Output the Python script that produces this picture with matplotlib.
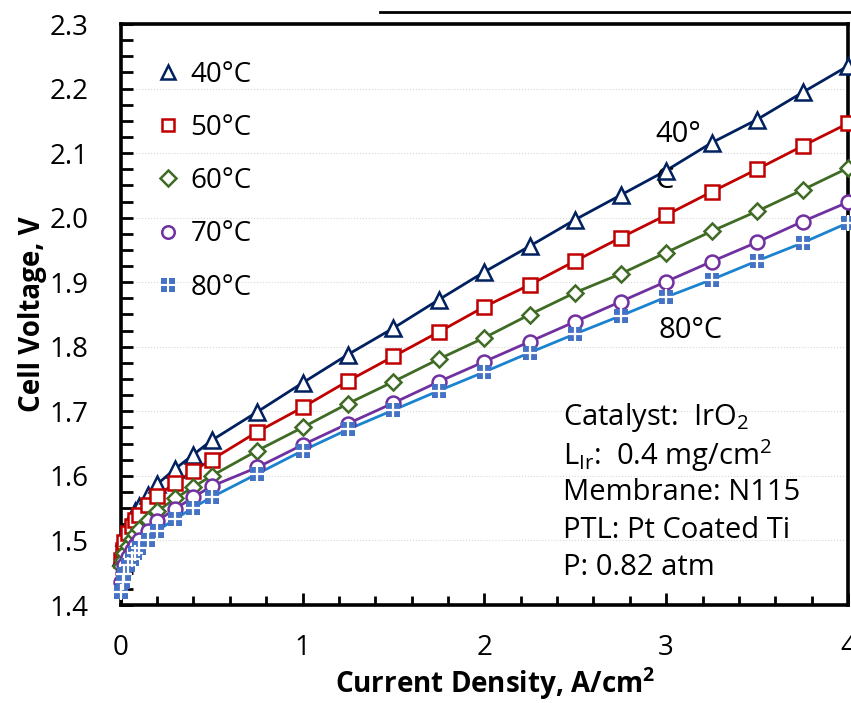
import numpy as np
import matplotlib.pyplot as plt
from matplotlib.lines import Line2D
from matplotlib.ticker import MultipleLocator

# current density, A/cm2
current = [0, 0.01, 0.02, 0.04, 0.06, 0.08, 0.1, 0.15, 0.2, 0.3, 0.4, 0.5,
           0.75, 1.0, 1.25, 1.5, 1.75, 2.0, 2.25, 2.5, 2.75, 3.0, 3.25, 3.5, 3.75, 4.0]

# cell voltage, V
v40 = [1.475, 1.492, 1.505, 1.522, 1.535, 1.545, 1.553, 1.570, 1.587, 1.611, 1.633, 1.655,
       1.699, 1.744, 1.788, 1.829, 1.873, 1.916, 1.956, 1.997, 2.035, 2.073, 2.116, 2.152, 2.194, 2.235]
v50 = [1.470, 1.485, 1.497, 1.512, 1.523, 1.532, 1.540, 1.555, 1.569, 1.589, 1.608, 1.625,
       1.668, 1.706, 1.747, 1.785, 1.823, 1.862, 1.896, 1.933, 1.969, 2.004, 2.040, 2.075, 2.111, 2.146]
v60 = [1.460, 1.470, 1.480, 1.492, 1.502, 1.510, 1.517, 1.531, 1.545, 1.565, 1.583, 1.600,
       1.639, 1.675, 1.712, 1.746, 1.781, 1.814, 1.850, 1.884, 1.913, 1.946, 1.979, 2.010, 2.043, 2.077]
v70 = [1.435, 1.450, 1.462, 1.475, 1.485, 1.493, 1.500, 1.515, 1.530, 1.549, 1.567, 1.584,
       1.613, 1.648, 1.681, 1.713, 1.746, 1.777, 1.808, 1.839, 1.870, 1.901, 1.932, 1.962, 1.994, 2.024]
v80 = [1.420, 1.435, 1.448, 1.462, 1.472, 1.480, 1.488, 1.500, 1.515, 1.533, 1.551, 1.567,
       1.603, 1.639, 1.672, 1.702, 1.732, 1.761, 1.791, 1.820, 1.848, 1.877, 1.904, 1.933, 1.961, 1.992]

labels = ['40°C', '50°C', '60°C', '70°C', '80°C']
conditions = ['Catalyst:  IrO$_2$', 'L$_{\\mathregular{Ir}}$:  0.4 mg/cm$^2$', 'Membrane: N115',
              'PTL: Pt Coated Ti', 'P: 0.82 atm']

plt.rcParams['font.family'] = ['Open Sans', 'DejaVu Sans']
plt.rcParams['mathtext.fontset'] = 'custom'
plt.rcParams['mathtext.rm'] = 'Open Sans'
plt.rcParams['mathtext.bf'] = 'Open Sans:bold'

fig = plt.figure(figsize=(8.51, 7.03), dpi=100)
ax = fig.add_axes([120.7 / 851, 1 - 605 / 703, 727.3 / 851, 581 / 703])

lw = 2.0
mew = 1.8
styles = [
    (v40, '#002060', '^', 11),
    (v50, '#C00000', 's', 10),
    (v60, '#3F6B24', 'D', 8.5),
    (v70, '#7030A0', 'o', 10),
]
handles = []
for v, c, m, ms in styles:
    ax.plot(current, v, color=c, lw=lw, zorder=3)
    ax.plot(current, v, ls='none', marker=m, ms=ms, mfc='white', mec=c, mew=mew,
            zorder=4, clip_on=False)
    handles.append(Line2D([], [], ls='none', marker=m, ms=ms * 0.9, mfc='white', mec=c, mew=mew))

# 80 C: solid blue square split by a white cross
ax.plot(current, v80, color='#1A82CF', lw=lw, zorder=3)
ax.plot(current, v80, ls='none', marker='s', ms=10, mfc='#4472C4', mec='#4472C4', mew=0,
        zorder=4, clip_on=False)
ax.plot(current, v80, ls='none', marker='+', ms=11, mec='white', mew=1.6, zorder=5, clip_on=False)
sq = Line2D([], [], ls='none', marker='s', ms=9.5, mfc='#4472C4', mec='#4472C4', mew=0)
cr = Line2D([], [], ls='none', marker='+', ms=10.5, mec='white', mew=1.5)
handles.append((sq, cr))

ax.set_xlim(0, 4)
ax.set_ylim(1.4, 2.3)
ax.xaxis.set_major_locator(MultipleLocator(1))
ax.xaxis.set_minor_locator(MultipleLocator(0.2))
ax.yaxis.set_major_locator(MultipleLocator(0.1))
ax.yaxis.set_minor_locator(MultipleLocator(0.025))
ax.yaxis.set_major_formatter(plt.FormatStrFormatter('%.1f'))
ax.tick_params(which='both', direction='in', top=False, right=False, width=2, labelsize=20)
ax.tick_params(axis='x', which='major', length=9, pad=21)
ax.tick_params(axis='x', which='minor', length=6.5)
ax.tick_params(axis='y', which='both', length=8.5, pad=23)
for s in ax.spines.values():
    s.set_linewidth(2.6)
ax.grid(axis='y', which='major', color='#D9D9D9', ls=':', lw=0.8)
ax.set_axisbelow(True)

ax.set_xlabel('Current Density, A/cm$^{\\mathbf{2}}$', fontsize=20, fontweight='bold')
ax.xaxis.set_label_coords(0.515, -0.104)
ax.set_ylabel('Cell Voltage, V', fontsize=20, fontweight='bold', labelpad=2)

ax.legend(handles, labels, loc='upper left', bbox_to_anchor=(0.012, 0.98), frameon=False,
          fontsize=20, handlelength=1.0, handletextpad=0.3, labelspacing=0.91)

ax.text(2.94, 2.152, '40°\nC', fontsize=21, ha='left', va='top', linespacing=1.8)
ax.text(2.96, 1.848, '80°C', fontsize=21, ha='left', va='top')

for i, line in enumerate(conditions):
    ax.text(2.43, 1.690 - i * 0.058, line, fontsize=21, ha='left', va='center')

# leftover border line and label from the panel above
fig.add_artist(Line2D([380 / 851, 1.0], [1 - 12 / 703, 1 - 12 / 703], color='black', lw=2))
fig.text(676 / 851, 1 - 4 / 703, '0.97', fontsize=20, ha='left', va='bottom')

fig.savefig('out.png', dpi=100)
